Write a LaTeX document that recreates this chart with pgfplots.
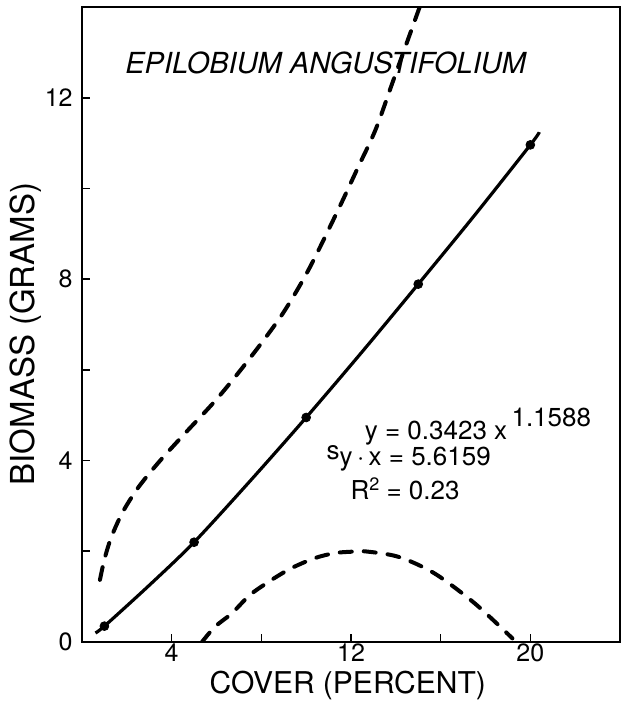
\documentclass[border=0pt]{standalone}
\usepackage{pgfplots}
\pgfplotsset{compat=1.18}
\usepackage{fontspec}
\setmainfont{TeX Gyre Heros}

% observed points (on the fitted curve)
\pgfplotstableread{
x y
1 0.35
5 2.2
10 4.95
15 7.89
20 10.96
}\obs

\begin{document}
\begin{tikzpicture}
\begin{axis}[
    scale only axis,
    width=269pt, height=317.5pt,
    xmin=0, xmax=24, ymin=0, ymax=14,
    axis line style={line width=0.8pt},
    tick align=inside,
    xtick pos=bottom, ytick pos=left,
    major tick length=4pt,
    tick style={line width=0.8pt, black},
    xtick={4,8,12,16,20}, xticklabels={4,,12,,20},
    ytick={0,2,4,6,8,10,12}, yticklabels={0,,4,,8,,12},
    /pgf/number format/assume math mode=true,
    ticklabel style={font=\fontsize{12.5}{15}\selectfont},
    xticklabel style={inner sep=0pt, yshift=-0.5pt},
    yticklabel style={inner sep=0pt, xshift=-4.5pt},
    xlabel={COVER (PERCENT)},
    ylabel={BIOMASS (GRAMS)},
    xlabel style={at={([yshift=-21.5pt]axis description cs:0.494,0)}, anchor=center,
                  font=\fontsize{15}{18}\selectfont},
    ylabel style={at={([xshift=-28pt]axis description cs:0,0.485)}, anchor=center, rotate=0,
                  font=\fontsize{16.5}{18}\selectfont},
    clip=true,
]
% fitted curve
\addplot[black, line width=1.6pt, smooth] coordinates {
    (0.6,0.2) (1,0.35) (3,1.25) (5,2.2) (7.5,3.55) (10,4.95)
    (12.5,6.4) (15,7.89) (17.5,9.4) (20,10.96) (20.4,11.24)
};
\addplot[black, only marks, mark=*, mark size=2.2pt] table[x=x, y=y] {\obs};
% upper confidence band
\addplot[black, line width=2pt, line cap=round, dash pattern=on 6.5pt off 6pt, smooth] coordinates {
    (0.8,1.37) (1.0,1.82) (1.3,2.3) (1.8,2.85) (2.5,3.4) (3.4,3.95) (4.5,4.55)
    (6,5.35) (7.4,6.2) (8.9,7.2) (10.1,8.2) (11.4,9.5) (12.3,10.45)
    (13.1,11.3) (13.9,12.4) (15.1,14.05)
};
% lower confidence band
\addplot[black, line width=2pt, line cap=round, dash pattern=on 6pt off 6pt, smooth] coordinates {
    (5.35,0.0) (5.94,0.34) (6.68,0.63) (7.5,1.04) (8.46,1.37) (9.35,1.63)
    (10.39,1.85) (11.27,1.96) (12.0,1.99) (12.6,2.0) (14.1,1.88) (15.7,1.52)
    (17.5,0.86) (19.2,0.08)
};
\node[font=\fontsize{14.5}{16}\selectfont\itshape] at (axis cs:10.87,12.77) {EPILOBIUM ANGUSTIFOLIUM};
\node[anchor=west, inner sep=0pt, font=\fontsize{13}{15}\selectfont] at (axis cs:12.6,4.75)
    {y = 0.3423 x\,\raisebox{0.9ex}{1.1588}};
\node[anchor=west, inner sep=0pt, font=\fontsize{13}{15}\selectfont] at (axis cs:10.9,4.05)
    {\raisebox{0.45ex}{s}y\,·\,x = 5.6159};
\node[anchor=west, inner sep=0pt, font=\fontsize{13}{15}\selectfont] at (axis cs:11.96,3.38)
    {R\raisebox{0.7ex}{\fontsize{9}{10}\selectfont 2} = 0.23};
\end{axis}
\pgfresetboundingbox
\path ([shift={(-41pt,-31.5pt)}]current axis.south west) rectangle ([shift={(2pt,3.5pt)}]current axis.north east);
\end{tikzpicture}
\end{document}
